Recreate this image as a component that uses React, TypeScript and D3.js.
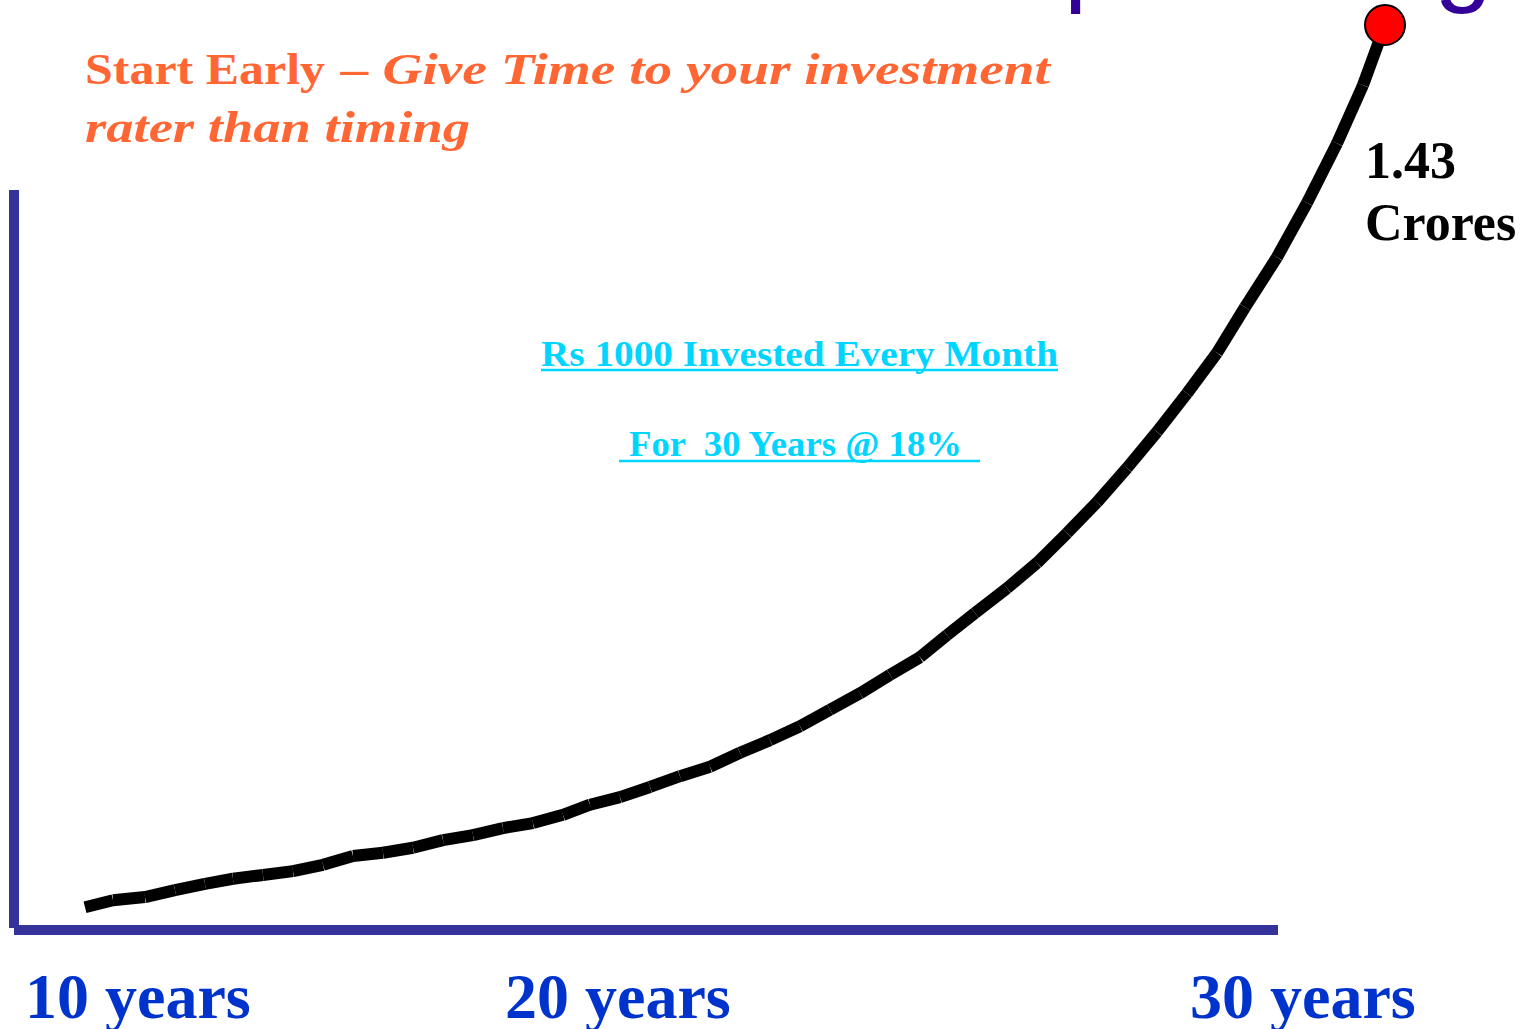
import React from "react";
import * as d3 from "d3";

// curve: position along the time axis and value (crores)
const stepX = [
  0, 28, 60, 90, 120, 148, 178, 208, 238, 268, 298, 328, 358, 388, 418, 448,
  478, 505, 535, 565, 595, 625, 655, 685, 715, 745, 775, 805, 835, 862, 890,
  922, 952, 982, 1012, 1042, 1072, 1102, 1132, 1160, 1192, 1222, 1252, 1278, 1300,
];
const corpus = [
  0.036, 0.047, 0.052, 0.063, 0.073, 0.081, 0.087, 0.093, 0.103, 0.117, 0.122,
  0.13, 0.142, 0.15, 0.161, 0.169, 0.182, 0.198, 0.21, 0.226, 0.243, 0.258,
  0.28, 0.3, 0.322, 0.348, 0.374, 0.403, 0.431, 0.466, 0.501, 0.54, 0.58,
  0.627, 0.676, 0.73, 0.787, 0.848, 0.912, 0.984, 1.063, 1.149, 1.243, 1.335, 1.43,
];
const tickLabels = ["10 years", "20 years", "30 years"];
const tickAt = [-60, 420, 1105];

const W = 1527;
const H = 1029;

const App = () => {
  const x = d3.scaleLinear().domain([0, 1300]).range([85, 1385]);
  const y = d3.scaleLinear().domain([0, 1.43]).range([930, 25]);

  const pts = stepX.map((d, i) => [x(d), y(corpus[i])]);
  const last = pts[pts.length - 1];

  const axisColor = "#333399";
  const serif = "'Liberation Serif', 'Times New Roman', serif";

  return (
    <svg
      width={W}
      height={H}
      style={{ position: "absolute", left: 0, top: 0, background: "#fff" }}
    >
      {/* heading, only its descenders show */}
      <text
        x={1492}
        y={-8}
        textAnchor="end"
        fontFamily="'Liberation Sans', Arial, sans-serif"
        fontSize={104}
        fill="#330099"
      >
        Power of Compounding
      </text>

      <text x={85} y={84} fontFamily={serif} fontSize={45} fontWeight="bold" fill="#FF6633" textLength={240} lengthAdjust="spacingAndGlyphs">
        Start Early
      </text>
      <text x={341} y={84} fontFamily={serif} fontSize={45} fontWeight="bold" fontStyle="italic" fill="#FF6633" textLength={709} lengthAdjust="spacingAndGlyphs">
        – Give Time to your investment
      </text>
      <text x={85} y={142} fontFamily={serif} fontSize={45} fontWeight="bold" fontStyle="italic" fill="#FF6633" textLength={385} lengthAdjust="spacingAndGlyphs">
        rater than timing
      </text>

      {/* axes */}
      <line x1={14} x2={14} y1={190} y2={928} stroke={axisColor} strokeWidth={10} />
      <line x1={14} x2={1278} y1={y(0)} y2={y(0)} stroke={axisColor} strokeWidth={10} />

      {/* note */}
      <text x={541} y={366} fontFamily={serif} fontSize={35} fontWeight="bold" fill="#00D5FF" textLength={517} lengthAdjust="spacingAndGlyphs">
        Rs 1000 Invested Every Month
      </text>
      <line x1={541} x2={1058} y1={370} y2={370} stroke="#00D5FF" strokeWidth={2.5} />
      <text x={629} y={456} fontFamily={serif} fontSize={35} fontWeight="bold" fill="#00D5FF" textLength={333} lengthAdjust="spacingAndGlyphs" style={{ whiteSpace: "pre" }}>
        {"For  30 Years @ 18%"}
      </text>
      <line x1={619} x2={980} y1={461} y2={461} stroke="#00D5FF" strokeWidth={2.5} />

      {/* curve drawn piece by piece */}
      <g stroke="#000" strokeWidth={12} strokeLinecap="butt">
        {d3.pairs(pts).map(([a, b], i) => (
          <line key={i} x1={a[0]} y1={a[1]} x2={b[0]} y2={b[1]} />
        ))}
      </g>
      <circle cx={last[0]} cy={last[1]} r={20} fill="#FF0000" stroke="#000" strokeWidth={2} />

      <text x={1365} y={178} fontFamily={serif} fontSize={52} fontWeight="bold" fill="#000">
        1.43
      </text>
      <text x={1365} y={240} fontFamily={serif} fontSize={52} fontWeight="bold" fill="#000">
        Crores
      </text>

      {tickLabels.map((t, i) => (
        <text
          key={t}
          x={x(tickAt[i])}
          y={1018}
          fontFamily={serif}
          fontSize={64}
          fontWeight="bold"
          fill="#0033CC"
        >
          {t}
        </text>
      ))}
    </svg>
  );
};

export default App;
